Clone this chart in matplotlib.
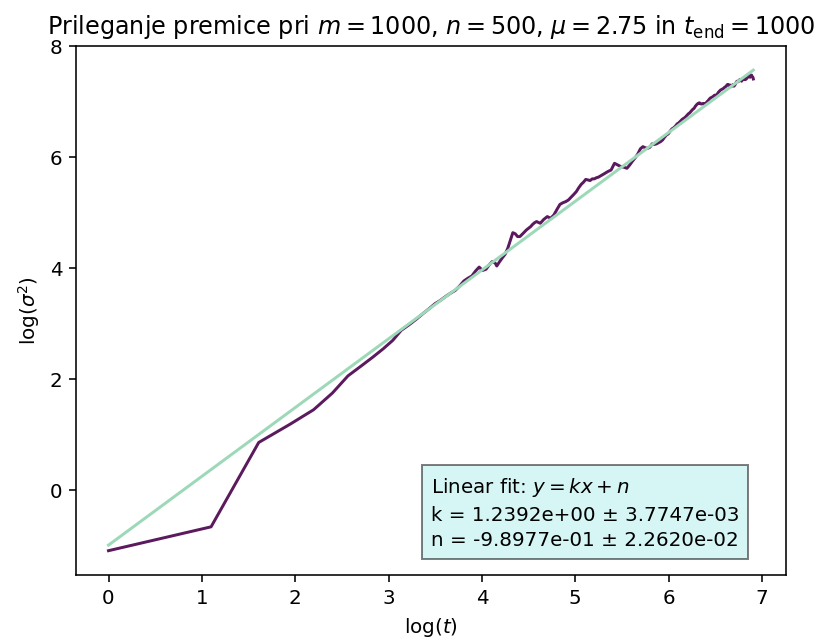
import numpy as np
import matplotlib.pyplot as plt

# data
log_t = [0.0, 1.0986, 1.609, 1.946, 2.197, 2.398, 2.565, 2.708, 2.833, 2.944,
         3.045, 3.135, 3.219, 3.296, 3.367, 3.434, 3.497, 3.555, 3.611, 3.664,
         3.714, 3.761, 3.807, 3.850, 3.892, 3.932, 3.970, 4.007, 4.043, 4.078,
         4.111, 4.143, 4.159, 4.190, 4.220, 4.248, 4.277, 4.304, 4.331, 4.357,
         4.382, 4.407, 4.431, 4.454, 4.477, 4.500, 4.522, 4.543, 4.564, 4.585,
         4.625, 4.663, 4.700, 4.736, 4.771, 4.804, 4.836, 4.868, 4.898, 4.927,
         4.956, 4.984, 5.011, 5.037, 5.063, 5.088, 5.112, 5.136, 5.159, 5.182,
         5.204, 5.226, 5.247, 5.268, 5.288, 5.308, 5.347, 5.384, 5.420, 5.455,
         5.489, 5.521, 5.553, 5.583, 5.613, 5.642, 5.670, 5.697, 5.724, 5.749,
         5.774, 5.799, 5.823, 5.846, 5.869, 5.891, 5.913, 5.935, 5.956, 5.976,
         5.996, 6.016, 6.035, 6.054, 6.073, 6.091, 6.109, 6.127, 6.144, 6.161,
         6.178, 6.194, 6.210, 6.226, 6.242, 6.257, 6.272, 6.287, 6.302, 6.316,
         6.330, 6.344, 6.358, 6.372, 6.385, 6.398, 6.411, 6.424, 6.437, 6.450,
         6.462, 6.474, 6.486, 6.498, 6.510, 6.522, 6.533, 6.544, 6.556, 6.567,
         6.578, 6.588, 6.599, 6.610, 6.620, 6.630, 6.640, 6.651, 6.661, 6.670,
         6.680, 6.690, 6.699, 6.709, 6.718, 6.727, 6.736, 6.745, 6.754, 6.763,
         6.772, 6.781, 6.790, 6.798, 6.807, 6.815, 6.824, 6.832, 6.840, 6.848,
         6.856, 6.864, 6.872, 6.880, 6.888, 6.895, 6.903, 6.907]
log_sigma2 = [-1.09, -0.66, 0.86, 1.19, 1.45, 1.75, 2.06, 2.24, 2.40, 2.55,
              2.70, 2.88, 2.98, 3.08, 3.18, 3.27, 3.36, 3.42, 3.49, 3.55,
              3.60, 3.68, 3.77, 3.82, 3.86, 3.95, 4.02, 3.96, 3.98, 4.06,
              4.12, 4.09, 4.04, 4.12, 4.19, 4.25, 4.36, 4.50, 4.64, 4.62,
              4.57, 4.57, 4.61, 4.65, 4.69, 4.72, 4.75, 4.79, 4.82, 4.84,
              4.81, 4.88, 4.93, 4.90, 4.96, 5.06, 5.15, 5.18, 5.20, 5.23,
              5.28, 5.33, 5.38, 5.45, 5.51, 5.55, 5.60, 5.59, 5.58, 5.61,
              5.61, 5.63, 5.64, 5.66, 5.68, 5.70, 5.74, 5.77, 5.89, 5.86,
              5.83, 5.82, 5.80, 5.86, 5.93, 5.99, 6.06, 6.15, 6.19, 6.17,
              6.16, 6.18, 6.24, 6.23, 6.24, 6.26, 6.28, 6.31, 6.36, 6.40,
              6.42, 6.47, 6.51, 6.53, 6.56, 6.60, 6.62, 6.65, 6.68, 6.70,
              6.72, 6.75, 6.78, 6.80, 6.83, 6.86, 6.88, 6.92, 6.95, 6.97,
              6.98, 6.96, 6.96, 6.97, 6.95, 6.97, 7.00, 7.02, 7.05, 7.07,
              7.08, 7.09, 7.11, 7.12, 7.10, 7.14, 7.17, 7.19, 7.21, 7.22,
              7.23, 7.24, 7.26, 7.27, 7.29, 7.31, 7.31, 7.28, 7.30, 7.27,
              7.29, 7.31, 7.28, 7.30, 7.33, 7.36, 7.37, 7.36, 7.38, 7.40,
              7.39, 7.37, 7.39, 7.41, 7.40, 7.42, 7.40, 7.41, 7.43, 7.44,
              7.46, 7.47, 7.44, 7.47, 7.48, 7.45, 7.44, 7.41]

k, k_err = 1.2392, 3.7747e-03
n, n_err = -9.8977e-01, 2.2620e-02

x = np.array(log_t)
fig, ax = plt.subplots(figsize=(820 / 143, 640 / 143), dpi=143)
fig.subplots_adjust(left=0.093, right=0.958, top=0.928, bottom=0.102)

ax.plot(x, log_sigma2, color='#5b1a5e')
ax.plot(x, k * x + n, color='#9dd9b8')

ax.set_title(r"Prileganje premice pri $m = 1000$, $n = 500$, $\mu = 2.75$ in $t_\mathrm{end} = 1000$")
ax.set_xlabel(r"$\log(t)$")
ax.set_ylabel(r"$\log(\sigma^2)$")

txt = "Linear fit: $y = kx + n$\n" \
      f"k = {k:.4e} ± {k_err:.4e}\n" \
      f"n = {n:.4e} ± {n_err:.4e}"
props = dict(boxstyle='square,pad=0.45', facecolor='paleturquoise', alpha=0.5)
ax.text(0.5, 0.187, txt, transform=ax.transAxes, va='top', linespacing=1.45, bbox=props)

fig.savefig('out.png', dpi=143)
